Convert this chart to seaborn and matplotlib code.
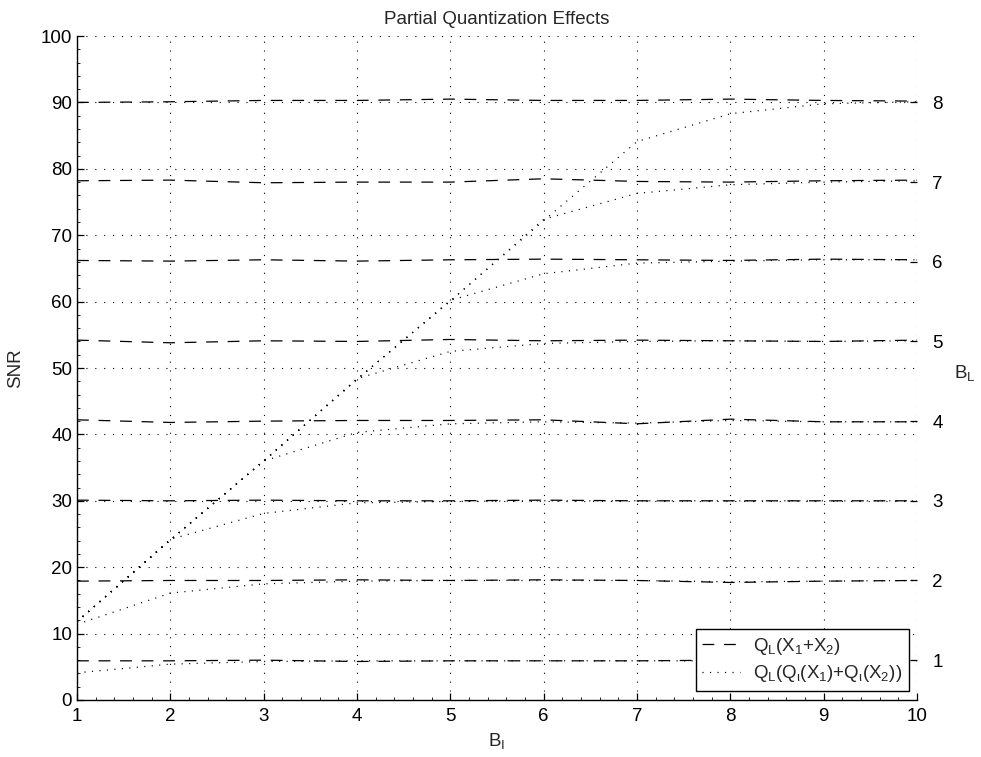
import matplotlib
matplotlib.use("Agg")
import matplotlib.pyplot as plt
from matplotlib.lines import Line2D
from matplotlib.ticker import AutoMinorLocator
import seaborn as sns

# Intermediate bit width B_I
b_i = [1, 2, 3, 4, 5, 6, 7, 8, 9, 10]

# SNR with a single quantizer on the sum: Q_L(X1 + X2), one list per B_L
snr_sum_bl1 = [5.9, 5.9, 6.0, 5.8, 5.9, 5.9, 5.9, 6.0, 5.9, 5.9]
snr_sum_bl2 = [17.9, 18.0, 18.0, 18.1, 18.0, 18.1, 18.0, 17.7, 17.9, 18.0]
snr_sum_bl3 = [30.1, 30.0, 30.1, 30.0, 30.0, 30.1, 30.0, 30.0, 30.0, 30.0]
snr_sum_bl4 = [42.2, 41.8, 42.0, 42.1, 42.1, 42.2, 41.6, 42.3, 41.9, 41.9]
snr_sum_bl5 = [54.2, 53.8, 54.1, 54.0, 54.3, 54.1, 54.2, 54.1, 54.0, 54.2]
snr_sum_bl6 = [66.2, 66.1, 66.3, 66.1, 66.3, 66.4, 66.3, 66.2, 66.4, 66.3]
snr_sum_bl7 = [78.2, 78.3, 77.9, 78.0, 78.0, 78.5, 78.1, 78.0, 78.2, 78.3]
snr_sum_bl8 = [90.0, 90.1, 90.3, 90.3, 90.5, 90.3, 90.3, 90.5, 90.3, 90.2]

# SNR with partial quantization: Q_L(Q_I(X1) + Q_I(X2)), one list per B_L
snr_part_bl1 = [4.1, 5.4, 5.8, 5.9, 5.9, 5.9, 5.9, 5.9, 5.9, 5.9]
snr_part_bl2 = [11.4, 16.1, 17.5, 17.9, 18.0, 18.0, 18.0, 17.8, 17.9, 18.0]
snr_part_bl3 = [11.8, 24.2, 28.1, 29.7, 29.9, 30.0, 30.0, 30.0, 30.0, 30.0]
snr_part_bl4 = [11.8, 24.1, 36.0, 40.3, 41.6, 41.9, 41.7, 42.1, 41.9, 41.9]
snr_part_bl5 = [11.8, 24.1, 36.0, 48.4, 52.5, 53.7, 54.0, 54.1, 54.0, 54.1]
snr_part_bl6 = [11.8, 24.1, 36.0, 48.3, 60.2, 64.2, 65.8, 66.1, 66.3, 66.3]
snr_part_bl7 = [11.8, 24.1, 36.0, 48.3, 60.1, 72.4, 76.3, 77.6, 78.0, 78.2]
snr_part_bl8 = [11.8, 24.1, 36.0, 48.3, 60.1, 72.2, 84.1, 88.3, 89.8, 90.1]

# Right-hand axis: B_L labels placed at the SNR level each output width reaches
bl_labels = ["1", "2", "3", "4", "5", "6", "7", "8"]
bl_levels = [6, 18, 30, 42, 54, 66, 78, 90]

x_ticks = [1, 2, 3, 4, 5, 6, 7, 8, 9, 10]
y_ticks = [0, 10, 20, 30, 40, 50, 60, 70, 80, 90, 100]

sum_series = [snr_sum_bl1, snr_sum_bl2, snr_sum_bl3, snr_sum_bl4,
              snr_sum_bl5, snr_sum_bl6, snr_sum_bl7, snr_sum_bl8]
part_series = [snr_part_bl1, snr_part_bl2, snr_part_bl3, snr_part_bl4,
               snr_part_bl5, snr_part_bl6, snr_part_bl7, snr_part_bl8]

sns.set_style("ticks")
plt.rcParams["font.family"] = ["Liberation Sans", "DejaVu Sans"]
plt.rcParams["mathtext.fontset"] = "custom"
plt.rcParams["mathtext.rm"] = "Liberation Sans"
plt.rcParams["mathtext.it"] = "Liberation Sans"
plt.rcParams["mathtext.sf"] = "Liberation Sans"
plt.rcParams["lines.scale_dashes"] = False

FS = 13.5
DASHED = (0, (8.5, 7.0))
DOTTED = (0, (0.8, 4.6))
GRID = (0, (0.8, 5.6))

fig = plt.figure(figsize=(9.81, 7.57), dpi=100)
ax = fig.add_axes([0.0785, 0.0753, 0.8563, 0.8771])

for vals in sum_series:
    sns.lineplot(x=b_i, y=vals, ax=ax, color="k", linewidth=0.9,
                 linestyle=DASHED, zorder=3)
for vals in part_series:
    sns.lineplot(x=b_i, y=vals, ax=ax, color="k", linewidth=0.9,
                 linestyle=DOTTED, zorder=3)

ax.set_xlim(1, 10)
ax.set_ylim(0, 100)
ax.set_xticks(x_ticks)
ax.set_yticks(y_ticks)
ax.xaxis.set_minor_locator(AutoMinorLocator(5))
ax.yaxis.set_minor_locator(AutoMinorLocator(5))
ax.grid(True, which="major", color="k", linestyle=GRID, linewidth=0.8, zorder=1)
ax.set_axisbelow(True)

for side in ("top", "right"):
    ax.spines[side].set_visible(False)
for side in ("left", "bottom"):
    ax.spines[side].set_linewidth(1.0)
    ax.spines[side].set_color("k")

ax.tick_params(which="major", direction="in", length=5, width=0.9,
               labelsize=FS, colors="k")
ax.tick_params(which="minor", direction="in", length=2.5, width=0.6, colors="k")
ax.tick_params(axis="y", which="major", pad=3.5)
ax.tick_params(axis="x", which="major", pad=6)

ax.set_title("Partial Quantization Effects", fontsize=FS, pad=9)
ax.set_xlabel(r"$\mathregular{B_I}$", fontsize=FS, labelpad=4)
ax.set_ylabel("SNR", fontsize=FS, labelpad=12)

ax2 = ax.twinx()
ax2.set_ylim(0, 100)
ax2.set_yticks(bl_levels)
ax2.set_yticklabels(bl_labels)
for side in ax2.spines:
    ax2.spines[side].set_visible(False)
ax2.tick_params(axis="y", direction="in", length=5, width=0.9,
                labelsize=FS, pad=11, colors="k")
ax2.set_ylabel(r"$\mathregular{B_L}$", fontsize=FS, rotation=0,
               ha="center", va="center")
ax2.yaxis.set_label_coords(1.057, 0.4925)

handles = [
    Line2D([], [], color="k", linewidth=0.9, linestyle=DASHED),
    Line2D([], [], color="k", linewidth=0.9, linestyle=DOTTED),
]
labels = [
    r"$\mathregular{Q_L(X_1{+}X_2)}$",
    r"$\mathregular{Q_L(Q_\iota(X_1){+}Q_\iota(X_2))}$",
]
leg = ax2.legend(handles, labels, loc="lower right",
                 bbox_to_anchor=(0.990, 0.0136), borderaxespad=0,
                 frameon=True, fancybox=False, edgecolor="k", framealpha=1,
                 fontsize=FS, handlelength=2.0, handletextpad=0.7,
                 borderpad=0.35, labelspacing=0.35)
leg.get_frame().set_linewidth(1.0)

fig.savefig("out.png", dpi=100)
